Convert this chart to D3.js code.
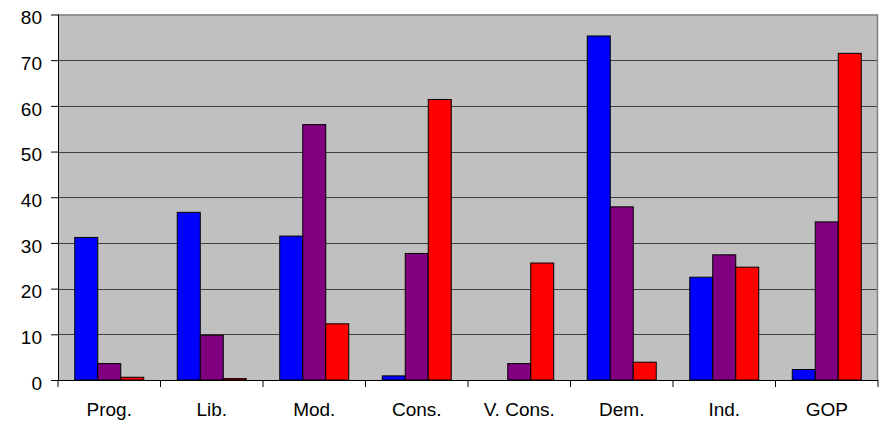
<!DOCTYPE html>
<html><head><meta charset="utf-8">
<script src="https://cdn.jsdelivr.net/npm/d3@7"></script>
<style>body{margin:0;background:#fff}svg{display:block}text{font-family:"Liberation Sans",Arial,sans-serif}</style>
</head><body>
<script>
const categories = ["Prog.","Lib.","Mod.","Cons.","V. Cons.","Dem.","Ind.","GOP"];
const seriesNames = ["Blue","Purple","Red"];
const blueValues   = [31.2, 36.7, 31.5, 0.9, 0, 75.3, 22.5, 2.3];
const purpleValues = [3.6, 9.8, 55.9, 27.7, 3.6, 37.9, 27.4, 34.6];
const redValues    = [0.6, 0.3, 12.3, 61.4, 25.6, 3.9, 24.7, 71.5];
const yTicks = [0,10,20,30,40,50,60,70,80];
const colors = ["#0000FF","#800080","#FF0000"];

const W = 886, H = 422;
const m = {left:58, right:8, top:14.5, bottom:42};
const svg = d3.select("body").append("svg").attr("width",W).attr("height",H);
const x0 = d3.scaleBand().domain(categories).range([m.left, W-m.right]).paddingInner(0.327).paddingOuter(0.1635);
const x1 = d3.scaleBand().domain(seriesNames).range([0, x0.bandwidth()]);
const y = d3.scaleLinear().domain([0,80]).range([H-m.bottom, m.top]);
const pw = W-m.right-m.left;

svg.append("rect").attr("x",m.left).attr("y",m.top).attr("width",pw).attr("height",y(0)-m.top).attr("fill","#C0C0C0");
// grid
svg.append("g").selectAll("line").data(yTicks.filter(d=>d>0 && d<80)).join("line")
  .attr("x1",m.left).attr("x2",W-m.right).attr("y1",d=>Math.round(y(d))+0.5).attr("y2",d=>Math.round(y(d))+0.5)
  .attr("stroke","#404040").attr("stroke-width",1.2);
// borders top/right
svg.append("path").attr("d",`M${m.left},${m.top+0.5}H${W-m.right-0.5}V${y(0)}`).attr("fill","none").attr("stroke","#808080").attr("stroke-width",1.5);

const data = categories.map((c,i)=>({c, vals:[blueValues[i],purpleValues[i],redValues[i]]}));
const g = svg.append("g").selectAll("g").data(data).join("g").attr("transform",d=>`translate(${x0(d.c)},0)`);
g.selectAll("rect").data(d=>d.vals.map((v,j)=>({v,s:seriesNames[j],j}))).join("rect")
  .filter(d=>d.v>0)
  .attr("x",d=>x1(d.s)).attr("width",x1.bandwidth())
  .attr("y",d=>y(d.v)).attr("height",d=>y(0)-y(d.v))
  .attr("fill",d=>colors[d.j]).attr("stroke","#000").attr("stroke-width",1);

// y axis
const ya = svg.append("g").attr("transform",`translate(${m.left},0)`)
  .call(d3.axisLeft(y).tickValues(yTicks).tickSize(7).tickPadding(9));
ya.select(".domain").attr("stroke","#000").attr("d",`M0.5,${m.top}V${y(0)}`);
ya.selectAll("line").attr("stroke","#000");
ya.selectAll("text").attr("font-size",19).attr("dy","0.48em").attr("fill","#000").attr("font-family","Liberation Sans, Arial, sans-serif");

// x axis
const xa = svg.append("g").attr("transform",`translate(0,${y(0)})`);
xa.append("line").attr("x1",m.left).attr("x2",W-m.right).attr("y1",0.5).attr("y2",0.5).attr("stroke","#000");
const step = pw/categories.length;
xa.selectAll("line.t").data(d3.range(categories.length+1)).join("line").attr("class","t")
  .attr("x1",i=>m.left+i*step).attr("x2",i=>m.left+i*step).attr("y1",0).attr("y2",7).attr("stroke","#000");
xa.selectAll("text").data(categories).join("text")
  .attr("x",d=>x0(d)+x0.bandwidth()/2).attr("y",36).attr("text-anchor","middle")
  .attr("font-size",19).attr("fill","#000").text(d=>d);
</script>
</body></html>
